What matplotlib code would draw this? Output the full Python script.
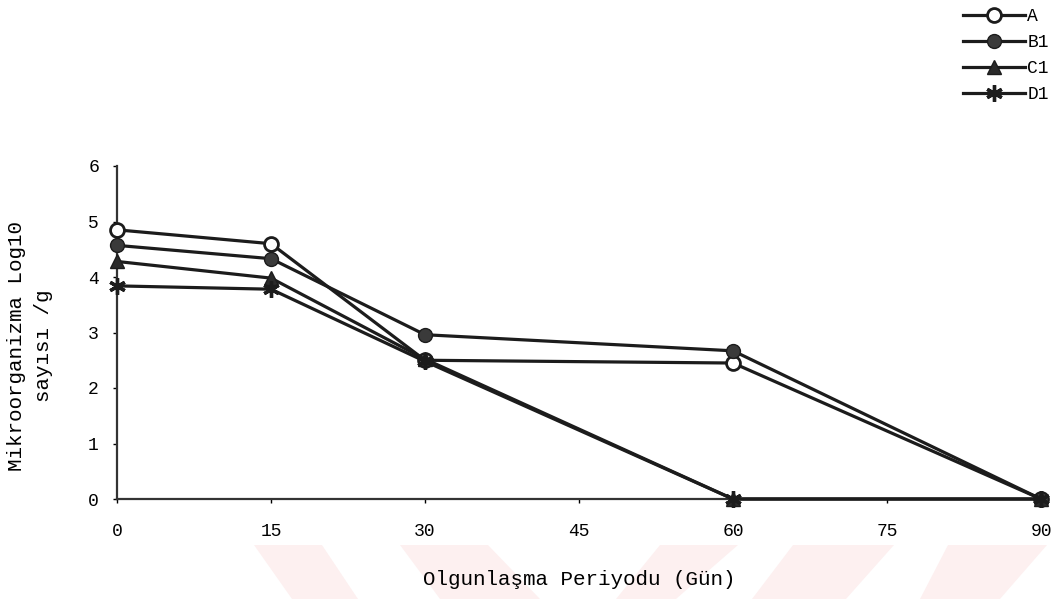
import numpy as np
import matplotlib
matplotlib.use('Agg')
import matplotlib.pyplot as plt
from matplotlib.patches import Polygon

# ripening period (days) and microorganism counts (log10 /g)
gunler = [0, 15, 30, 60, 90]
A = [4.85, 4.60, 2.50, 2.45, 0.0]
B1 = [4.57, 4.33, 2.96, 2.67, 0.0]
C1 = [4.28, 3.98, 2.52, 0.0, 0.0]
D1 = [3.84, 3.78, 2.48, 0.0, 0.0]
x_ticks = [0, 15, 30, 45, 60, 75, 90]
y_ticks = [0, 1, 2, 3, 4, 5, 6]

plt.rcParams['font.family'] = ['Liberation Mono', 'DejaVu Sans Mono']

fig = plt.figure(figsize=(10.57, 5.99), dpi=100)

# faint watermark stripes at the bottom of the scanned page (pixel coords)
W, H = 1057, 599
stripes = [
    [(254, 545), (322, 545), (358, 599), (292, 599)],
    [(400, 545), (488, 545), (540, 599), (440, 599)],
    [(660, 545), (738, 545), (676, 599), (616, 599)],
    [(793, 545), (894, 545), (846, 599), (752, 599)],
    [(948, 545), (1047, 545), (1000, 599), (920, 599)],
]
for s in stripes:
    pts = [(px / W, 1 - py / H) for px, py in s]
    fig.patches.append(Polygon(pts, closed=True, transform=fig.transFigure,
                               facecolor='#fdf0f0', edgecolor='none', zorder=-5))

ax = fig.add_axes([117 / W, 1 - 499 / H, (1041 - 117) / W, (499 - 166) / H])
ax.patch.set_alpha(0)

# later series are drawn on top, as in the original spreadsheet chart
lc = '#1c1c1c'
ax.plot(gunler, A, color=lc, lw=2.3, marker='o', ms=10, mfc='white', mec=lc, mew=2,
        label='A', zorder=3, clip_on=False)
ax.plot(gunler, B1, color=lc, lw=2.3, marker='o', ms=10, mfc='#3a3a3a', mec=lc,
        label='B1', zorder=3, clip_on=False)
ax.plot(gunler, C1, color=lc, lw=2.3, marker='^', ms=10, mfc='#2a2a2a', mec=lc,
        label='C1', zorder=3, clip_on=False)
ax.plot(gunler, D1, color=lc, lw=2.3, marker=(6, 2, 0), ms=12, mec=lc, mew=2.4,
        label='D1', zorder=3, clip_on=False)

ax.set_xlim(0, 90)
ax.set_ylim(0, 6)
ax.set_xticks(x_ticks)
ax.set_yticks(y_ticks)
ax.tick_params(axis='x', direction='out', length=3, width=1, pad=14, labelsize=13)
ax.tick_params(axis='y', direction='out', length=3, width=1, pad=10, labelsize=13)

for side in ['top', 'right']:
    ax.spines[side].set_visible(False)
for side in ['left', 'bottom']:
    ax.spines[side].set_linewidth(1.6)
    ax.spines[side].set_color('#333333')

ax.set_xlabel('Olgunlaşma Periyodu (Gün)', fontsize=15, labelpad=22)
ax.set_ylabel('Mikroorganizma Log10\nsayısı /g', fontsize=15, linespacing=1.55)
ax.yaxis.set_label_coords(-0.069, 0.46)

fig.legend(loc='upper right', bbox_to_anchor=(1.0, 1.0), frameon=False,
           fontsize=13, handlelength=3.4, handletextpad=0.15,
           labelspacing=0.5, borderaxespad=0.05)

fig.savefig('out.png', dpi=100)
